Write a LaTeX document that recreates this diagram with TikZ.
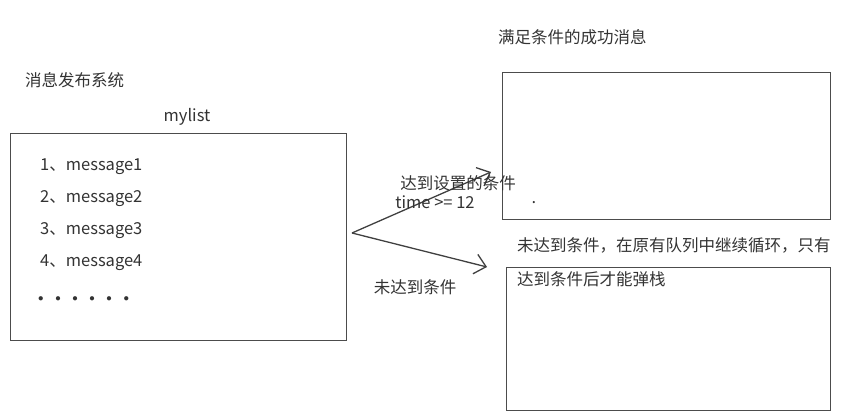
\documentclass[tikz,border=0pt]{standalone}
\usepackage{fontspec}
\setmainfont{Noto Sans CJK SC}
\usetikzlibrary{arrows.meta, positioning}

\begin{document}
\begin{tikzpicture}[x=1pt, y=-1pt]
        \tikzstyle{every node}+=[inner sep=0pt, text=black!80, font=\fontsize{16.5}{20}\selectfont]
        \tikzstyle{box}=[draw=black!70, line width=1.3pt, rectangle, anchor=north west]
        \tikzstyle{txt}=[anchor=west]
        \tikzstyle{link}=[draw=black!75, line width=1.3pt, arrows={-Straight Barb[length=11pt, width=20pt]}]
        \useasboundingbox (0,0) rectangle (845,419);

        % left side: the list
        \node [txt] (sys) at (25,80) {消息发布系统};
        \node (name) at (187,117) {mylist};
        \node [box, minimum width=336, minimum height=207] (mylist) at (10,133) {};
        \node [txt] (m1) at (40,167) {1、message1};
        \node [txt] (m2) at (40,199) {2、message2};
        \node [txt] (m3) at (40,231) {3、message3};
        \node [txt] (m4) at (40,263) {4、message4};
        \node [txt, font=\fontsize{11}{12}\selectfont] (more) at (38,299)
          {$\bullet$\hspace{11.6pt}$\bullet$\hspace{11.6pt}$\bullet$\hspace{11.6pt}$\bullet$\hspace{11.6pt}$\bullet$\hspace{11.6pt}$\bullet$};

        % right side: the two queues
        \node [txt] (oktitle) at (498,37) {满足条件的成功消息};
        \node [box, minimum width=328, minimum height=147] (ok) at (502,72) {};
        \node (dot) at (534,203) {.};
        \node [txt] (waittitle) at (517,245) {未达到条件，在原有队列中继续循环，只有};
        \node [box, minimum width=324, minimum height=143] (wait) at (506,267) {};
        \node [txt] (waittitle2) at (517,279) {达到条件后才能弹栈};

        % the split
        \coordinate (fork) at (352,233);
        \coordinate (okend) at (491,172);
        \coordinate (waitend) at (487,267);
        \draw [link] (fork) -- (okend);
        \draw [link] (fork) -- (waitend);
        \node (yes) at (458,183) {达到设置的条件};
        \node (rule) at (435,202) {time >= 12};
        \node (no) at (415,287) {未达到条件};
\end{tikzpicture}
\end{document}
